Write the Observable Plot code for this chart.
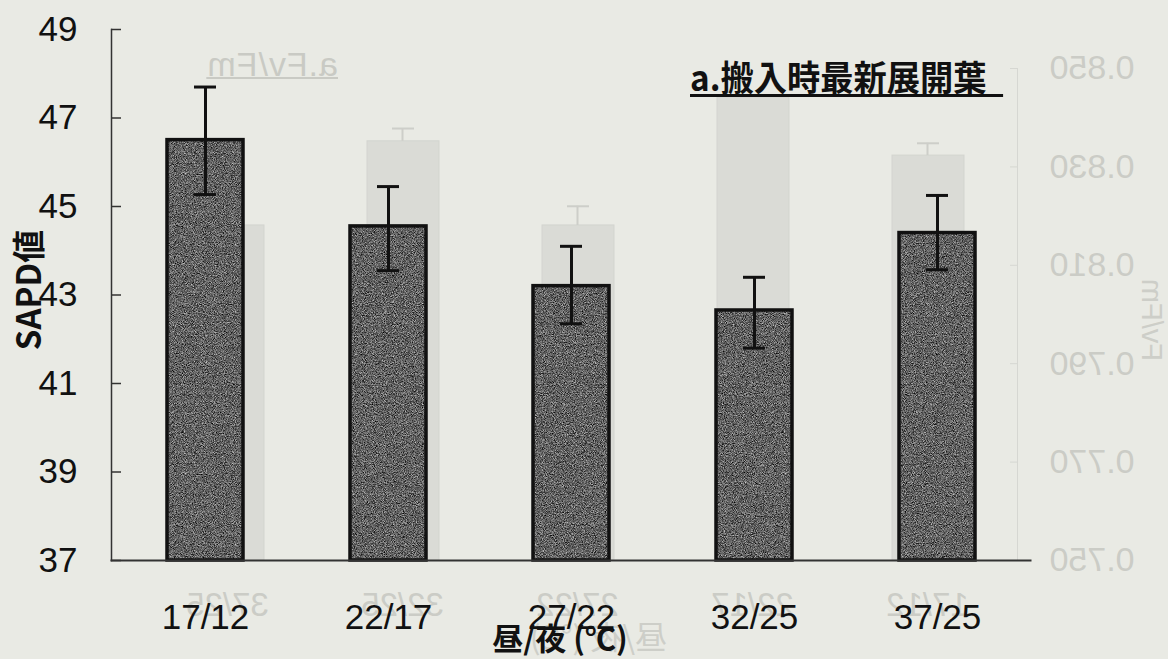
<!DOCTYPE html>
<html>
<head>
<meta charset="utf-8">
<script src="https://cdn.jsdelivr.net/npm/d3@7"></script>
<script src="https://cdn.jsdelivr.net/npm/@observablehq/plot@0.6"></script>
<style>
  html, body { margin: 0; padding: 0; background: #e9eae4; }
  #wrap { position: relative; width: 1168px; height: 659px; overflow: hidden; background: #e9eae4; }
  #wrap svg.plotsvg { position: absolute; left: 0; top: 0; }
  #ghost { position: absolute; left: 0; top: 0; width: 1168px; height: 659px; transform: scaleX(-1); }
  .lbl { position: absolute; white-space: nowrap; font-family: "Noto Sans CJK JP", sans-serif; line-height: 1; }
  #title { left: 690px; top: 58px; font-size: 35px; font-weight: 700; color: #111;
           transform: scaleX(0.95); transform-origin: left center;
           text-decoration: underline; text-decoration-thickness: 3px; text-underline-offset: 3px; }
  #ylab { left: 27px; top: 290px; font-size: 33px; font-weight: 700; color: #111;
          transform: translate(-50%, -50%) rotate(-90deg); }
  #xlab { left: 560px; top: 636px; font-size: 31px; font-weight: 700; color: #111;
          transform: translate(-50%, -50%); }
  #gtitle { left: 830px; top: 47px; font-size: 34px; color: #c9cac4; font-family: "Liberation Sans", sans-serif;
            letter-spacing: 1px; text-decoration: underline; text-decoration-thickness: 2px; }
  #gylab { left: 17px; top: 320px; font-size: 29px; color: #cdcec8; font-family: "Liberation Sans", sans-serif;
           transform: translate(-50%, -50%) rotate(-90deg); }
  #gxlab { left: 501px; top: 619px; font-size: 32px; color: #cdcec8; }
</style>
</head>
<body>
<svg width="0" height="0" style="position:absolute">
  <defs>
    <filter id="grain" x="0" y="0" width="100%" height="100%" color-interpolation-filters="sRGB">
      <feTurbulence type="fractalNoise" baseFrequency="1.1" numOctaves="2" seed="7"/>
      <feColorMatrix type="matrix" values="1.1 0 0 0 -0.17  1.1 0 0 0 -0.17  1.1 0 0 0 -0.17  0 0 0 0 1"/>
    </filter>
    <pattern id="noise" patternUnits="userSpaceOnUse" x="0" y="0" width="300" height="300">
      <rect width="300" height="300" fill="#5a5a5a"/>
      <rect width="300" height="300" filter="url(#grain)"/>
    </pattern>
  </defs>
</svg>
<div id="wrap">
  <div id="ghost"></div>
  <div id="main"></div>
</div>
<script>
// ---- main chart data (SAPD値) ----
const categories = ["17/12", "22/17", "27/22", "32/25", "37/25"];
const sapd      = [46.5, 44.55, 43.2, 42.65, 44.4];
const sapdHigh  = [47.7, 45.45, 44.1, 43.4, 45.25];
const sapdLow   = [45.27, 43.55, 42.35, 41.8, 43.57];
const yTicks    = [37, 39, 41, 43, 45, 47, 49];
const titleText = "a.搬入時最新展開葉\u2002";
const yLabel    = "SAPD値";
const xLabel    = "昼/夜 (℃)";

// ---- show-through from the reverse side of the page (mirrored Fv/Fm chart) ----
const ghostValues = [0.8323, 0.8441, 0.8181, 0.8352, 0.8181];
const ghostHigh   = [0.8348, null, 0.8220, 0.8378, null];
const ghostTicks  = [0.75, 0.77, 0.79, 0.81, 0.83, 0.85];
const ghostTitle  = "a.Fv/Fm";
const ghostYLabel = "Fv/Fm";
const ghostXLabel = "昼/夜 (℃)";

const ink = "#111";
const numFont = "Liberation Sans, Arial, sans-serif";

const data = categories.map((c, i) => ({cat: c, v: sapd[i], hi: sapdHigh[i], lo: sapdLow[i]}));

const main = Plot.plot({
  width: 1168, height: 659,
  marginLeft: 111, marginRight: 138, marginTop: 29, marginBottom: 99,
  style: {background: "transparent", fontFamily: numFont, fontSize: "35px", color: ink, overflow: "visible"},
  x: {domain: categories, paddingInner: 0.587, paddingOuter: 0.2935, label: null},
  y: {domain: [37, 49], label: null},
  marks: [
    Plot.barY(data, {x: "cat", y1: 37, y2: "v", fill: "url(#noise)", stroke: ink, strokeWidth: 3.5}),
    Plot.ruleX(data, {x: "cat", y1: "lo", y2: "hi", stroke: ink, strokeWidth: 3}),
    Plot.tickY(data, {x: "cat", y: "hi", stroke: ink, strokeWidth: 3, inset: 27}),
    Plot.tickY(data, {x: "cat", y: "lo", stroke: ink, strokeWidth: 3, inset: 27}),
    Plot.axisY({ticks: yTicks, tickSize: 0, tickPadding: 34, fontSize: 35, label: null}),
    Plot.axisY({ticks: yTicks, tickSize: -10, tickFormat: () => "", stroke: "#333", strokeWidth: 1.5, label: null}),
    Plot.axisX({tickSize: 0, tickPadding: 44, fontSize: 35, label: null}),
    Plot.frame({anchor: "left", stroke: "#333", strokeWidth: 1.5}),
    Plot.frame({anchor: "bottom", stroke: "#333", strokeWidth: 2})
  ]
});
main.classList.add("plotsvg");
document.getElementById("main").appendChild(main);

const ghostData = categories.map((c, i) => ({cat: c, v: ghostValues[i], hi: ghostHigh[i]}));
const ghostErr = ghostData.filter(d => d.hi != null);
const gInk = "#cbccc6";
const ghost = Plot.plot({
  width: 1168, height: 659,
  marginLeft: 150, marginRight: 139, marginTop: 68, marginBottom: 99,
  style: {background: "transparent", fontFamily: numFont, fontSize: "35px", color: gInk, overflow: "visible"},
  x: {domain: categories, paddingInner: 0.59, paddingOuter: 0.295, label: null},
  y: {domain: [0.75, 0.85], label: null},
  marks: [
    Plot.barY(ghostData, {x: "cat", y1: 0.75, y2: "v", fill: "#dadbd6", stroke: "#d3d4cf", strokeWidth: 1}),
    Plot.ruleX(ghostErr, {x: "cat", y1: "v", y2: "hi", stroke: "#cdcec9", strokeWidth: 2}),
    Plot.tickY(ghostErr, {x: "cat", y: "hi", stroke: "#cdcec9", strokeWidth: 2, inset: 25}),
    Plot.axisY({ticks: ghostTicks, tickFormat: d3.format(".3f"), tickSize: 0, tickPadding: 32, fontSize: 34, label: null}),
    Plot.axisY({ticks: ghostTicks, tickSize: -8, tickFormat: () => "", stroke: "#d6d7d2", label: null}),
    Plot.axisX({tickSize: 0, tickPadding: 32, fontSize: 33, label: null}),
    Plot.frame({anchor: "left", stroke: "#d6d7d2"}),
    Plot.frame({anchor: "bottom", stroke: "#d6d7d2"})
  ]
});
ghost.classList.add("plotsvg");
const gdiv = document.getElementById("ghost");
gdiv.appendChild(ghost);

function addLabel(parent, id, text) {
  const d = document.createElement("div");
  d.className = "lbl"; d.id = id; d.textContent = text;
  parent.appendChild(d);
}
addLabel(gdiv, "gtitle", ghostTitle);
addLabel(gdiv, "gylab", ghostYLabel);
addLabel(gdiv, "gxlab", ghostXLabel);
const wrap = document.getElementById("wrap");
addLabel(wrap, "title", titleText);
addLabel(wrap, "ylab", yLabel);
addLabel(wrap, "xlab", xLabel);
</script>
</body>
</html>
